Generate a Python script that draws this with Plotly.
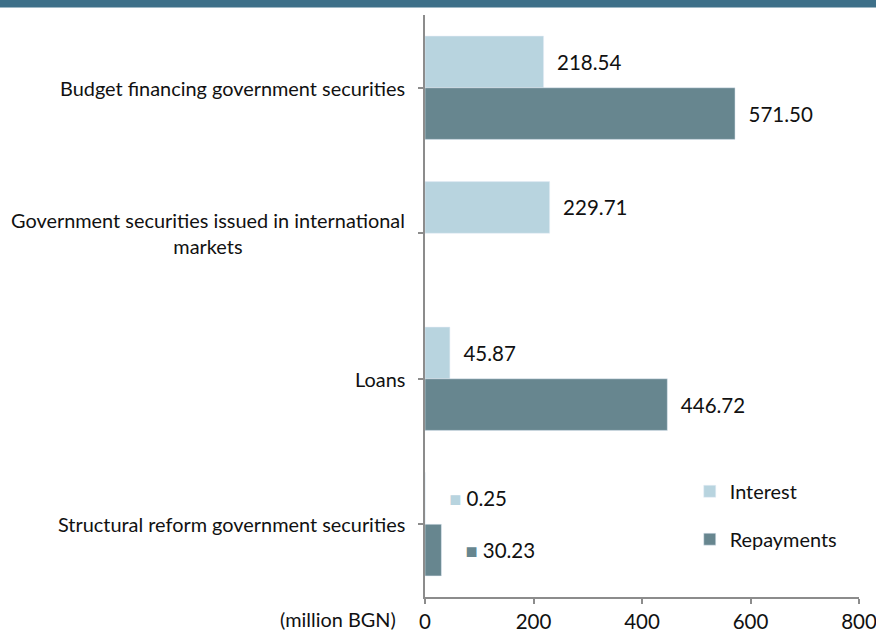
import plotly.graph_objects as go

categories = [
    "Budget financing government securities",
    "Government securities issued in international<br>markets",
    "Loans",
    "Structural reform government securities",
]
interest = [218.54, 229.71, 45.87, 0.25]
repayments = [571.50, None, 446.72, 30.23]
key_in_label = [False, False, False, True]
x_ticks = [0, 200, 400, 600, 800]

C_INT = "#b8d4df"
C_REP = "#67868f"
BANNER = "#3e7089"
TXT = "#111111"
FONT = "Lato"
FS = 19.9
FS_NUM = 20.5

W, H = 876, 635
ML, MR, MT, MB = 425, 17, 15, 38
PW, PH = W - ML - MR, H - MT - MB

NB = "\u00a0"

def labels(vals, color):
    out = []
    for v, k in zip(vals, key_in_label):
        if v is None:
            out.append("")
        elif k:
            out.append(NB * 4 + f'<span style="color:{color};font-size:20px">■</span>' + NB + f"{v:.2f}")
        else:
            out.append(NB * 2 + f"{v:.2f}")
    return out

fig = go.Figure()
fig.add_trace(go.Bar(
    y=categories, x=interest, orientation="h", name="Interest",
    marker=dict(color=C_INT), text=labels(interest, C_INT),
    textposition="outside", cliponaxis=False, legendgroup="a",
    textfont=dict(family=FONT, size=FS_NUM, color=TXT),
))
fig.add_trace(go.Bar(
    y=categories, x=repayments, orientation="h", name="Repayments",
    marker=dict(color=C_REP), text=labels(repayments, C_REP),
    textposition="outside", cliponaxis=False, legendgroup="b",
    textfont=dict(family=FONT, size=FS_NUM, color=TXT),
))

annotations = []
for c in categories:
    annotations.append(dict(
        x=0, xref="paper", y=c, yref="y", xanchor="right", xshift=-18,
        text=c, showarrow=False, align="center",
        font=dict(family=FONT, size=FS, color=TXT),
    ))
annotations.append(dict(
    x=0, xref="paper", y=0, yref="paper", xanchor="right", yanchor="middle",
    xshift=-27, yshift=-22, text="(million BGN)", showarrow=False,
    font=dict(family=FONT, size=FS, color=TXT),
))

fig.update_layout(
    width=W, height=H, autosize=False,
    margin=dict(l=ML, r=MR, t=MT, b=MB, pad=0, autoexpand=False),
    plot_bgcolor="white", paper_bgcolor="white",
    barmode="group", bargap=0.29, bargroupgap=0,
    font=dict(family=FONT, size=FS, color=TXT),
    xaxis=dict(
        range=[0, 800], tickvals=x_ticks, ticktext=[str(t) for t in x_ticks],
        showgrid=False, zeroline=False, showline=True, linecolor="#8c8c8c", linewidth=1.5,
        ticks="outside", ticklen=5, tickcolor="#8c8c8c", tickwidth=1.5,
        tickfont=dict(family=FONT, size=FS_NUM, color=TXT),
        ticklabelstandoff=1, ticklabeloverflow="allow", automargin=False,
    ),
    yaxis=dict(
        autorange="reversed", showticklabels=False, showgrid=False, zeroline=False,
        showline=True, linecolor="#8c8c8c", linewidth=1.5,
        ticks="outside", ticklen=5, tickcolor="#8c8c8c", tickwidth=1.5,
        automargin=False,
    ),
    legend=dict(
        x=0.610, y=0.215, xanchor="left", yanchor="top",
        font=dict(family=FONT, size=FS, color=TXT),
        tracegroupgap=19, bgcolor="rgba(0,0,0,0)", traceorder="grouped",
    ),
    annotations=annotations,
    shapes=[dict(
        type="rect", xref="paper", yref="paper",
        x0=-ML / PW, x1=1 + MR / PW, y0=1 + (MT - 7.5) / PH, y1=1 + MT / PH + 0.01,
        fillcolor=BANNER, line=dict(width=0), layer="above",
    )],
)

fig.write_html("out.html", config={"displayModeBar": False})
with open("out.html", encoding="utf-8") as f:
    html = f.read()
html = html.replace("<head>", "<head><style>html,body{margin:0;padding:0;overflow:hidden;}</style>", 1)
with open("out.html", "w", encoding="utf-8") as f:
    f.write(html)
